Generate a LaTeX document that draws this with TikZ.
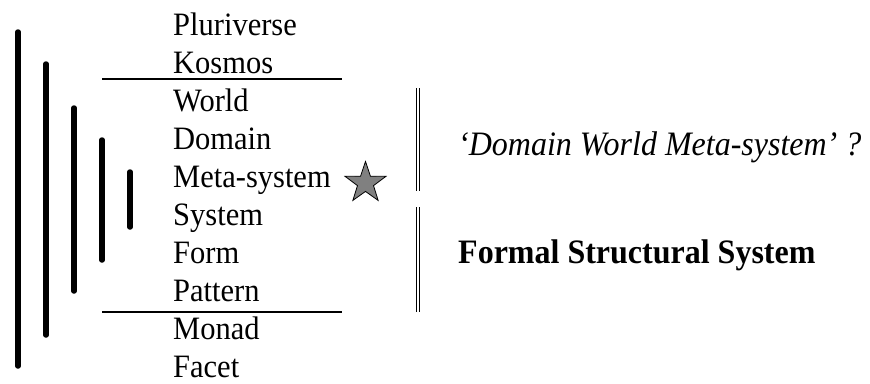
\documentclass[tikz,border=0pt]{standalone}
\usepackage{fontspec}
\setmainfont{Liberation Serif}
\usetikzlibrary{shapes.geometric}
\newcommand{\vstretch}[1]{\scalebox{1}[1.07]{#1}}
\begin{document}
\begin{tikzpicture}[x=1pt,y=-1pt,
  lvl/.style={anchor=base west,inner sep=0pt,font=\fontsize{30.5}{36}\selectfont},
  bar/.style={line width=5.5pt,line cap=round},
  rule/.style={line width=1.3pt},
  dbl/.style={double,double distance=2.6pt,line width=1.1pt},
  lbl/.style={anchor=base west,inner sep=0pt}]
\useasboundingbox (0,0) rectangle (870,383);
% level names
\foreach \n/\t [count=\i from 0] in {plu/Pluriverse,kos/Kosmos,wor/World,dom/Domain,met/Meta-system,sys/System,for/Form,pat/Pattern,mon/Monad,fac/Facet}
  \node[lvl] (\n) at (173,35+38*\i) {\vstretch{\t}};
% separator rules
\coordinate (r1a) at (102,79); \coordinate (r1b) at (342,79);
\coordinate (r2a) at (102,312); \coordinate (r2b) at (342,312);
\draw[rule] (r1a) -- (r1b);
\draw[rule] (r2a) -- (r2b);
% nested bars
\coordinate (b1t) at (18,32); \coordinate (b1b) at (18,366);
\coordinate (b2t) at (46,64); \coordinate (b2b) at (46,335);
\coordinate (b3t) at (74,108); \coordinate (b3b) at (74,291);
\coordinate (b4t) at (102,140); \coordinate (b4b) at (102,260);
\coordinate (b5t) at (130,172); \coordinate (b5b) at (130,227);
\draw[bar] (b1t) -- (b1b);
\draw[bar] (b2t) -- (b2b);
\draw[bar] (b3t) -- (b3b);
\draw[bar] (b4t) -- (b4b);
\draw[bar] (b5t) -- (b5b);
% star
\node[star,star points=5,star point ratio=2.55,minimum size=43pt,inner sep=0pt,
  draw=black,line width=0.8pt,fill=gray] (st) at (365.5,183) {};
% double brackets
\coordinate (d1t) at (418,88); \coordinate (d1b) at (418,191);
\coordinate (d2t) at (418,207); \coordinate (d2b) at (418,312);
\draw[dbl] (d1t) -- (d1b);
\draw[dbl] (d2t) -- (d2b);
% labels
\node[lbl,font=\fontsize{32}{38}\selectfont\itshape] (dwm) at (458,155) {\vstretch{‘Domain World Meta-system’ ?}};
\node[lbl,font=\fontsize{32}{38}\selectfont\bfseries] (fss) at (458,263) {\vstretch{Formal Structural System}};
\end{tikzpicture}
\end{document}
